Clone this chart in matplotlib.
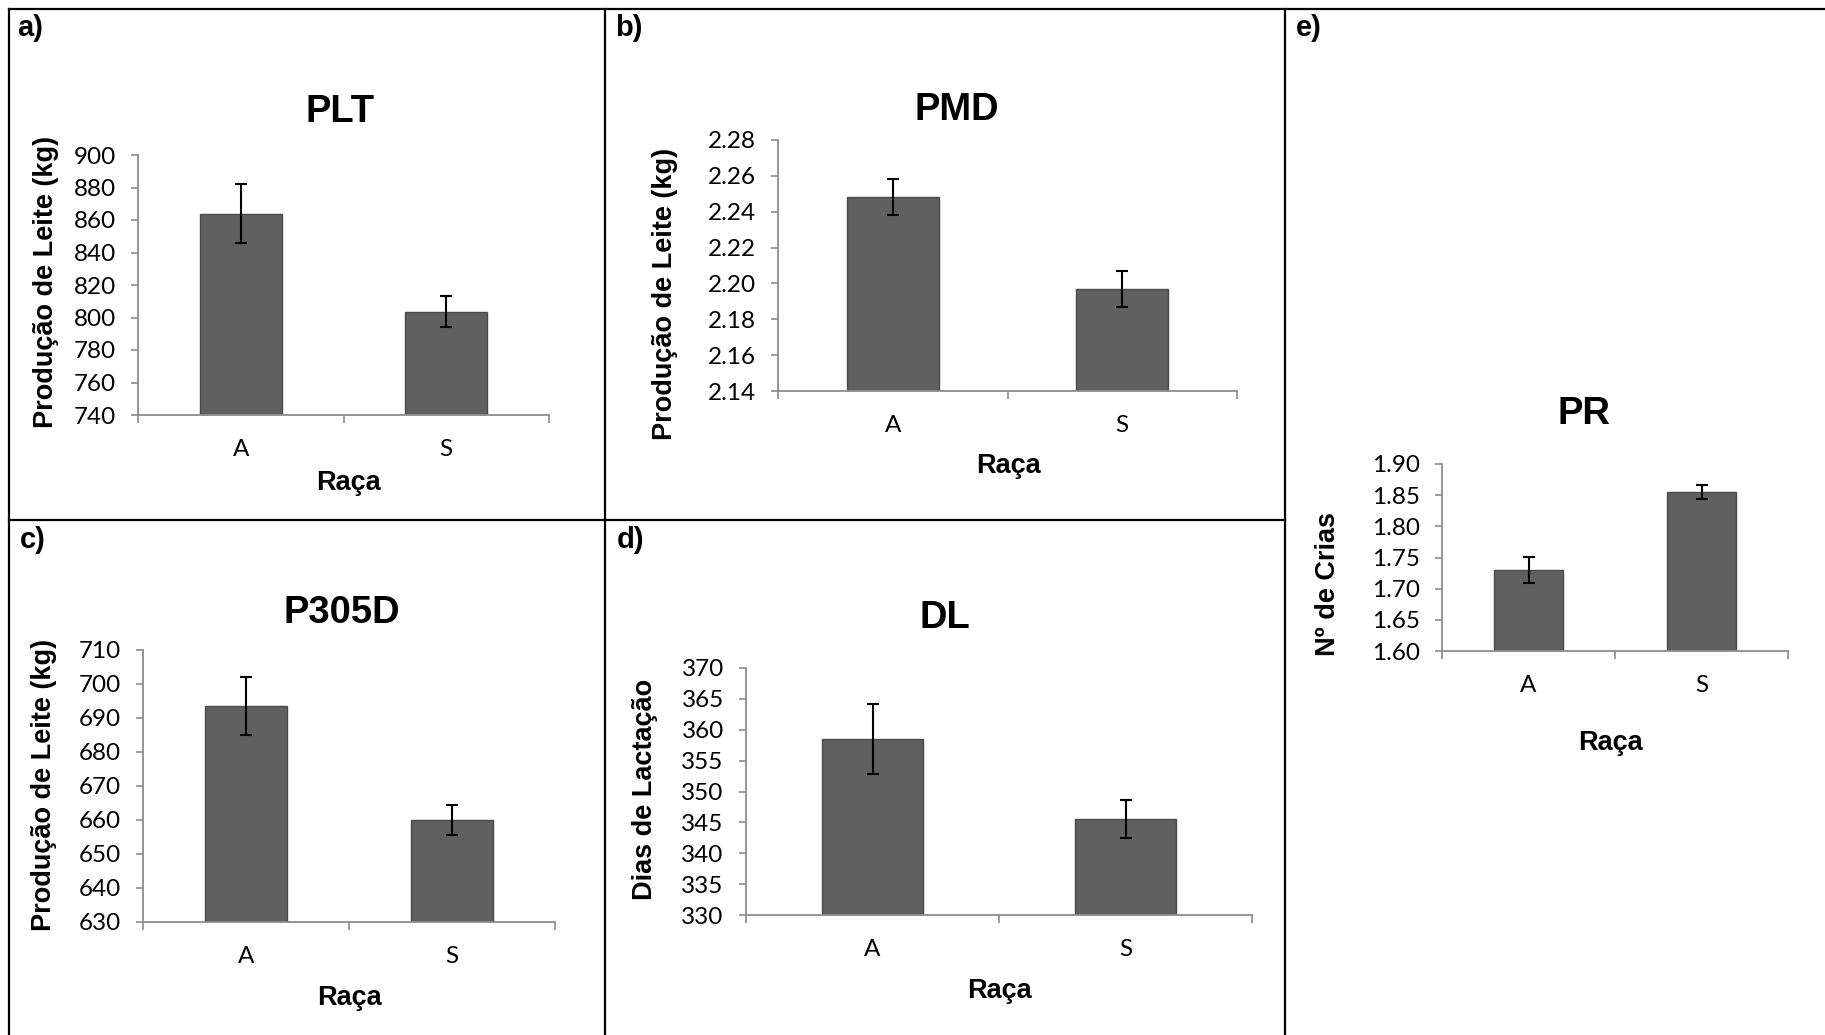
import matplotlib
matplotlib.use('Agg')
import matplotlib.pyplot as plt
from matplotlib.lines import Line2D

W, H = 1825, 1035

# Data (breed A vs S, mean and error)
racas = ['A', 'S']

plt_vals = [864.0, 803.5]
plt_err = [18.0, 9.5]

pmd_vals = [2.248, 2.197]
pmd_err = [0.010, 0.010]

p305_vals = [693.5, 660.0]
p305_err = [8.5, 4.5]

dl_vals = [358.5, 345.6]
dl_err = [5.7, 3.1]

pr_vals = [1.730, 1.855]
pr_err = [0.021, 0.011]

BAR = '#606060'
EDGE = '#4a4a4a'
AXC = '#8c8c8c'
BOLD = 'Liberation Sans'
TICKF = 'Lato'

fig = plt.figure(figsize=(W / 100, H / 100), dpi=100)


def px_axes(x0, x1, ytop, ybot):
    return fig.add_axes([x0 / W, 1 - ybot / H, (x1 - x0) / W, (ybot - ytop) / H])


def ftext(x, y, s, size, rot=0):
    fig.text(x / W, 1 - y / H, s, ha='center', va='center', fontsize=size,
             fontweight='bold', family=BOLD, rotation=rot)


def panel(box, vals, err, ylim, step, fmt, title, tpos, ylabel, ypos, xlpos, letter, lpos):
    ax = px_axes(*box)
    x = range(len(racas))
    ax.bar(x, vals, width=0.4, color=BAR, edgecolor=EDGE, linewidth=1.0, zorder=2)
    ax.errorbar(x, vals, yerr=err, fmt='none', ecolor='black', elinewidth=1.5,
                capsize=4.5, capthick=1.5, zorder=3)
    ax.set_xlim(-0.5, 1.5)
    ax.set_ylim(*ylim)
    n = int(round((ylim[1] - ylim[0]) / step))
    ticks = [ylim[0] + i * step for i in range(n + 1)]
    ax.set_yticks(ticks)
    ax.set_yticklabels([fmt.format(t) for t in ticks], family=TICKF, fontsize=17.5)
    ax.set_xticks(list(x))
    ax.set_xticklabels(racas, family=TICKF, fontsize=17.5)
    ax.set_xticks([-0.5, 0.5, 1.5], minor=True)
    ax.tick_params(axis='x', which='major', length=0, pad=17)
    ax.tick_params(axis='x', which='minor', length=6, width=1.2, color=AXC, direction='out')
    ax.tick_params(axis='y', length=5, width=1.2, color=AXC, direction='out', pad=11)
    for s in ['top', 'right']:
        ax.spines[s].set_visible(False)
    for s in ['left', 'bottom']:
        ax.spines[s].set_color(AXC)
        ax.spines[s].set_linewidth(1.3)
    ftext(*tpos, title, 27.5)
    ftext(*ypos, ylabel, 19.5, rot=90)
    ftext(*xlpos, 'Raça', 19.5)
    fig.text(lpos[0] / W, 1 - lpos[1] / H, letter, ha='left', va='center', fontsize=21,
             fontweight='bold', family=BOLD)
    return ax


panel((138, 549, 155, 415), plt_vals, plt_err, (740, 900), 20, '{:.0f}',
      'PLT', (340, 112), 'Produção de Leite (kg)', (46, 282), (348, 483), 'a)', (17, 28))
panel((778, 1237, 140, 391), pmd_vals, pmd_err, (2.14, 2.28), 0.02, '{:.2f}',
      'PMD', (957, 110), 'Produção de Leite (kg)', (665, 294), (1008, 466), 'b)', (615, 28))
panel((143, 555, 650, 922), p305_vals, p305_err, (630, 710), 10, '{:.0f}',
      'P305D', (342, 613), 'Produção de Leite (kg)', (44, 785), (349, 998), 'c)', (20, 540))
panel((746, 1252, 668, 915), dl_vals, dl_err, (330, 370), 5, '{:.0f}',
      'DL', (945, 618), 'Dias de Lactação', (645, 789), (999, 991), 'd)', (617, 540))
panel((1442, 1788, 464, 651), pr_vals, pr_err, (1.60, 1.90), 0.05, '{:.2f}',
      'PR', (1584, 414), 'Nº de Crias', (1328, 584), (1610, 743), 'e)', (1296, 28))

# panel frame lines
def fline(xs, ys):
    fig.add_artist(Line2D([v / W for v in xs], [1 - v / H for v in ys],
                          color='black', linewidth=1.6, transform=fig.transFigure))

fline([9, W], [9, 9])
fline([9, 9], [9, H])
fline([605, 605], [9, H])
fline([1285, 1285], [9, H])
fline([9, 1285], [520, 520])

fig.savefig('out.png', dpi=100)
